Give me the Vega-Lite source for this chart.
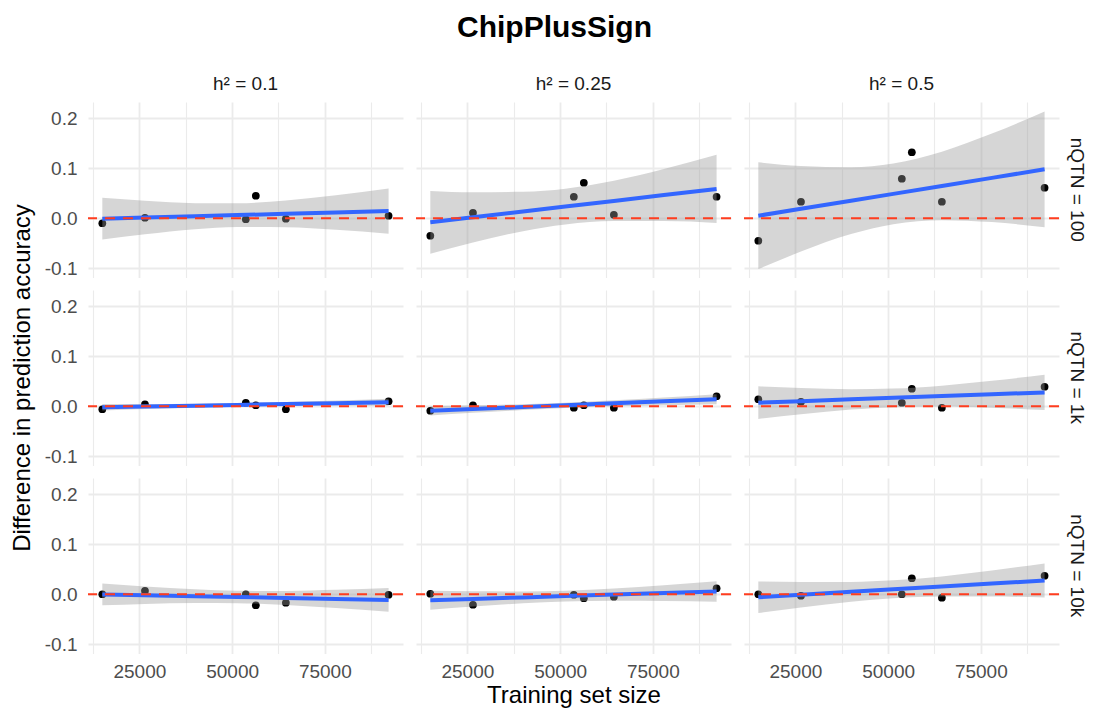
{
  "$schema": "https://vega.github.io/schema/vega-lite/v6.json",
  "padding": {"left": 10, "top": 13, "right": 5, "bottom": 5},
  "background": "white",
  "title": {"text": "ChipPlusSign", "fontSize": 30, "fontWeight": "bold", "font": "Liberation Sans", "color": "#000000", "anchor": "middle", "offset": 32, "dx": 6},
  "data": {"values": [
    {"t":"p","h":"0.1","n":"100","x":15000,"y":-0.010},
    {"t":"p","h":"0.1","n":"100","x":26500,"y":0.001},
    {"t":"p","h":"0.1","n":"100","x":53700,"y":-0.002},
    {"t":"p","h":"0.1","n":"100","x":56400,"y":0.045},
    {"t":"p","h":"0.1","n":"100","x":64500,"y":-0.001},
    {"t":"p","h":"0.1","n":"100","x":92200,"y":0.005},
    {"t":"p","h":"0.25","n":"100","x":15000,"y":-0.035},
    {"t":"p","h":"0.25","n":"100","x":26500,"y":0.011},
    {"t":"p","h":"0.25","n":"100","x":53700,"y":0.043},
    {"t":"p","h":"0.25","n":"100","x":56400,"y":0.071},
    {"t":"p","h":"0.25","n":"100","x":64500,"y":0.007},
    {"t":"p","h":"0.25","n":"100","x":92200,"y":0.043},
    {"t":"p","h":"0.5","n":"100","x":15000,"y":-0.045},
    {"t":"p","h":"0.5","n":"100","x":26500,"y":0.033},
    {"t":"p","h":"0.5","n":"100","x":53700,"y":0.079},
    {"t":"p","h":"0.5","n":"100","x":56400,"y":0.132},
    {"t":"p","h":"0.5","n":"100","x":64500,"y":0.033},
    {"t":"p","h":"0.5","n":"100","x":92200,"y":0.061},
    {"t":"p","h":"0.1","n":"1k","x":15000,"y":-0.006},
    {"t":"p","h":"0.1","n":"1k","x":26500,"y":0.004},
    {"t":"p","h":"0.1","n":"1k","x":53700,"y":0.007},
    {"t":"p","h":"0.1","n":"1k","x":56400,"y":0.002},
    {"t":"p","h":"0.1","n":"1k","x":64500,"y":-0.006},
    {"t":"p","h":"0.1","n":"1k","x":92200,"y":0.010},
    {"t":"p","h":"0.25","n":"1k","x":15000,"y":-0.009},
    {"t":"p","h":"0.25","n":"1k","x":26500,"y":0.002},
    {"t":"p","h":"0.25","n":"1k","x":53700,"y":-0.003},
    {"t":"p","h":"0.25","n":"1k","x":56400,"y":0.002},
    {"t":"p","h":"0.25","n":"1k","x":64500,"y":-0.003},
    {"t":"p","h":"0.25","n":"1k","x":92200,"y":0.020},
    {"t":"p","h":"0.5","n":"1k","x":15000,"y":0.014},
    {"t":"p","h":"0.5","n":"1k","x":26500,"y":0.009},
    {"t":"p","h":"0.5","n":"1k","x":53700,"y":0.007},
    {"t":"p","h":"0.5","n":"1k","x":56400,"y":0.035},
    {"t":"p","h":"0.5","n":"1k","x":64500,"y":-0.003},
    {"t":"p","h":"0.5","n":"1k","x":92200,"y":0.039},
    {"t":"p","h":"0.1","n":"10k","x":15000,"y":0.000},
    {"t":"p","h":"0.1","n":"10k","x":26500,"y":0.007},
    {"t":"p","h":"0.1","n":"10k","x":53700,"y":0.000},
    {"t":"p","h":"0.1","n":"10k","x":56400,"y":-0.022},
    {"t":"p","h":"0.1","n":"10k","x":64500,"y":-0.017},
    {"t":"p","h":"0.1","n":"10k","x":92200,"y":-0.001},
    {"t":"p","h":"0.25","n":"10k","x":15000,"y":0.001},
    {"t":"p","h":"0.25","n":"10k","x":26500,"y":-0.021},
    {"t":"p","h":"0.25","n":"10k","x":53700,"y":-0.001},
    {"t":"p","h":"0.25","n":"10k","x":56400,"y":-0.008},
    {"t":"p","h":"0.25","n":"10k","x":64500,"y":-0.005},
    {"t":"p","h":"0.25","n":"10k","x":92200,"y":0.012},
    {"t":"p","h":"0.5","n":"10k","x":15000,"y":0.000},
    {"t":"p","h":"0.5","n":"10k","x":26500,"y":-0.003},
    {"t":"p","h":"0.5","n":"10k","x":53700,"y":0.000},
    {"t":"p","h":"0.5","n":"10k","x":56400,"y":0.032},
    {"t":"p","h":"0.5","n":"10k","x":64500,"y":-0.007},
    {"t":"p","h":"0.5","n":"10k","x":92200,"y":0.037},

    {"t":"b","h":"0.1","n":"100","x":15000,"fit":-0.0008,"lo":-0.0426,"hi":0.0410},
    {"t":"b","h":"0.1","n":"100","x":26500,"fit":0.0014,"lo":-0.0321,"hi":0.0349},
    {"t":"b","h":"0.1","n":"100","x":40000,"fit":0.0041,"lo":-0.0220,"hi":0.0302},
    {"t":"b","h":"0.1","n":"100","x":51400,"fit":0.0063,"lo":-0.0175,"hi":0.0301},
    {"t":"b","h":"0.1","n":"100","x":64500,"fit":0.0089,"lo":-0.0179,"hi":0.0357},
    {"t":"b","h":"0.1","n":"100","x":78000,"fit":0.0116,"lo":-0.0230,"hi":0.0462},
    {"t":"b","h":"0.1","n":"100","x":92200,"fit":0.0144,"lo":-0.0309,"hi":0.0597},

    {"t":"b","h":"0.25","n":"100","x":15000,"fit":-0.0082,"lo":-0.0711,"hi":0.0547},
    {"t":"b","h":"0.25","n":"100","x":26500,"fit":0.0018,"lo":-0.0485,"hi":0.0521},
    {"t":"b","h":"0.25","n":"100","x":40000,"fit":0.0135,"lo":-0.0258,"hi":0.0528},
    {"t":"b","h":"0.25","n":"100","x":51400,"fit":0.0233,"lo":-0.0125,"hi":0.0591},
    {"t":"b","h":"0.25","n":"100","x":64500,"fit":0.0347,"lo":-0.0056,"hi":0.0750},
    {"t":"b","h":"0.25","n":"100","x":78000,"fit":0.0464,"lo":-0.0057,"hi":0.0985},
    {"t":"b","h":"0.25","n":"100","x":92200,"fit":0.0587,"lo":-0.0094,"hi":0.1268},

    {"t":"b","h":"0.5","n":"100","x":15000,"fit":0.0051,"lo":-0.1017,"hi":0.1119},
    {"t":"b","h":"0.5","n":"100","x":26500,"fit":0.0189,"lo":-0.0666,"hi":0.1044},
    {"t":"b","h":"0.5","n":"100","x":40000,"fit":0.0351,"lo":-0.0317,"hi":0.1019},
    {"t":"b","h":"0.5","n":"100","x":51400,"fit":0.0488,"lo":-0.0120,"hi":0.1096},
    {"t":"b","h":"0.5","n":"100","x":64500,"fit":0.0646,"lo":-0.0039,"hi":0.1331},
    {"t":"b","h":"0.5","n":"100","x":78000,"fit":0.0808,"lo":-0.0077,"hi":0.1693},
    {"t":"b","h":"0.5","n":"100","x":92200,"fit":0.0979,"lo":-0.0179,"hi":0.2137},

    {"t":"b","h":"0.1","n":"1k","x":15000,"fit":-0.0020,"lo":-0.0085,"hi":0.0045},
    {"t":"b","h":"0.1","n":"1k","x":26500,"fit":-0.0005,"lo":-0.0057,"hi":0.0047},
    {"t":"b","h":"0.1","n":"1k","x":40000,"fit":0.0012,"lo":-0.0028,"hi":0.0052},
    {"t":"b","h":"0.1","n":"1k","x":51400,"fit":0.0027,"lo":-0.0010,"hi":0.0064},
    {"t":"b","h":"0.1","n":"1k","x":64500,"fit":0.0044,"lo":0.0003,"hi":0.0085},
    {"t":"b","h":"0.1","n":"1k","x":78000,"fit":0.0062,"lo":0.0009,"hi":0.0115},
    {"t":"b","h":"0.1","n":"1k","x":92200,"fit":0.0080,"lo":0.0010,"hi":0.0150},

    {"t":"b","h":"0.25","n":"1k","x":15000,"fit":-0.0090,"lo":-0.0183,"hi":0.0003},
    {"t":"b","h":"0.25","n":"1k","x":26500,"fit":-0.0056,"lo":-0.0131,"hi":0.0019},
    {"t":"b","h":"0.25","n":"1k","x":40000,"fit":-0.0016,"lo":-0.0074,"hi":0.0042},
    {"t":"b","h":"0.25","n":"1k","x":51400,"fit":0.0018,"lo":-0.0035,"hi":0.0071},
    {"t":"b","h":"0.25","n":"1k","x":64500,"fit":0.0058,"lo":-0.0002,"hi":0.0118},
    {"t":"b","h":"0.25","n":"1k","x":78000,"fit":0.0098,"lo":0.0021,"hi":0.0175},
    {"t":"b","h":"0.25","n":"1k","x":92200,"fit":0.0140,"lo":0.0039,"hi":0.0241},

    {"t":"b","h":"0.5","n":"1k","x":15000,"fit":0.0072,"lo":-0.0254,"hi":0.0398},
    {"t":"b","h":"0.5","n":"1k","x":26500,"fit":0.0102,"lo":-0.0159,"hi":0.0363},
    {"t":"b","h":"0.5","n":"1k","x":40000,"fit":0.0138,"lo":-0.0066,"hi":0.0342},
    {"t":"b","h":"0.5","n":"1k","x":51400,"fit":0.0168,"lo":-0.0018,"hi":0.0354},
    {"t":"b","h":"0.5","n":"1k","x":64500,"fit":0.0203,"lo":-0.0006,"hi":0.0412},
    {"t":"b","h":"0.5","n":"1k","x":78000,"fit":0.0239,"lo":-0.0031,"hi":0.0509},
    {"t":"b","h":"0.5","n":"1k","x":92200,"fit":0.0277,"lo":-0.0077,"hi":0.0631},

    {"t":"b","h":"0.1","n":"10k","x":15000,"fit":-0.0003,"lo":-0.0222,"hi":0.0216},
    {"t":"b","h":"0.1","n":"10k","x":26500,"fit":-0.0019,"lo":-0.0194,"hi":0.0156},
    {"t":"b","h":"0.1","n":"10k","x":40000,"fit":-0.0039,"lo":-0.0176,"hi":0.0098},
    {"t":"b","h":"0.1","n":"10k","x":51400,"fit":-0.0055,"lo":-0.0179,"hi":0.0069},
    {"t":"b","h":"0.1","n":"10k","x":64500,"fit":-0.0074,"lo":-0.0214,"hi":0.0066},
    {"t":"b","h":"0.1","n":"10k","x":78000,"fit":-0.0093,"lo":-0.0274,"hi":0.0088},
    {"t":"b","h":"0.1","n":"10k","x":92200,"fit":-0.0114,"lo":-0.0351,"hi":0.0123},

    {"t":"b","h":"0.25","n":"10k","x":15000,"fit":-0.0120,"lo":-0.0310,"hi":0.0070},
    {"t":"b","h":"0.25","n":"10k","x":26500,"fit":-0.0093,"lo":-0.0245,"hi":0.0059},
    {"t":"b","h":"0.25","n":"10k","x":40000,"fit":-0.0063,"lo":-0.0182,"hi":0.0056},
    {"t":"b","h":"0.25","n":"10k","x":51400,"fit":-0.0037,"lo":-0.0145,"hi":0.0071},
    {"t":"b","h":"0.25","n":"10k","x":64500,"fit":-0.0007,"lo":-0.0129,"hi":0.0115},
    {"t":"b","h":"0.25","n":"10k","x":78000,"fit":0.0024,"lo":-0.0133,"hi":0.0181},
    {"t":"b","h":"0.25","n":"10k","x":92200,"fit":0.0056,"lo":-0.0150,"hi":0.0262},

    {"t":"b","h":"0.5","n":"10k","x":15000,"fit":-0.0060,"lo":-0.0375,"hi":0.0255},
    {"t":"b","h":"0.5","n":"10k","x":26500,"fit":-0.0010,"lo":-0.0263,"hi":0.0243},
    {"t":"b","h":"0.5","n":"10k","x":40000,"fit":0.0049,"lo":-0.0148,"hi":0.0246},
    {"t":"b","h":"0.5","n":"10k","x":51400,"fit":0.0098,"lo":-0.0082,"hi":0.0278},
    {"t":"b","h":"0.5","n":"10k","x":64500,"fit":0.0155,"lo":-0.0047,"hi":0.0357},
    {"t":"b","h":"0.5","n":"10k","x":78000,"fit":0.0214,"lo":-0.0047,"hi":0.0475},
    {"t":"b","h":"0.5","n":"10k","x":92200,"fit":0.0275,"lo":-0.0067,"hi":0.0617}
  ]},
  "facet": {
    "column": {
      "field": "h", "type": "nominal", "sort": ["0.1", "0.25", "0.5"],
      "header": {
        "labelExpr": "'h² = ' + datum.value",
        "labelFontSize": 19, "labelFont": "Liberation Sans", "labelColor": "#1A1A1A", "labelPadding": 8,
        "title": "Training set size", "titleOrient": "bottom", "titleFontSize": 24, "titleFont": "Liberation Sans",
        "titleFontWeight": "normal", "titleColor": "#000000", "titlePadding": -7
      }
    },
    "row": {
      "field": "n", "type": "nominal", "sort": ["100", "1k", "10k"],
      "header": {
        "labelExpr": "'nQTN = ' + datum.value",
        "labelOrient": "right", "labelAngle": 90,
        "labelFontSize": 19, "labelFont": "Liberation Sans", "labelColor": "#1A1A1A", "labelPadding": 7,
        "title": "Difference in prediction accuracy", "titleOrient": "left", "titleFontSize": 24, "titleFont": "Liberation Sans",
        "titleFontWeight": "normal", "titleColor": "#000000", "titlePadding": -1
      }
    }
  },
  "spacing": {"row": 12, "column": 11},
  "spec": {
    "width": 315,
    "height": 175.5,
    "layer": [
      {
        "transform": [{"filter": "datum.t === 'p'"}],
        "mark": {"type": "circle", "size": 60, "opacity": 1, "color": "#000000"},
        "encoding": {
          "x": {"field": "x", "type": "quantitative", "title": null,
                "scale": {"domain": [11138, 96088], "nice": false, "zero": false},
                "axis": {"title": null, "values": [12500, 25000, 37500, 50000, 62500, 75000, 87500],
                         "labelExpr": "datum.value % 25000 === 0 ? format(datum.value, 'd') : ''",
                         "gridWidth": {"condition": {"test": "datum.value % 25000 === 0", "value": 1.8}, "value": 1.1}}},
          "y": {"field": "y", "type": "quantitative", "title": null,
                "scale": {"domain": [-0.1185, 0.2325], "nice": false, "zero": false},
                "axis": {"title": null, "values": [-0.1, -0.05, 0, 0.05, 0.1, 0.15, 0.2],
                         "labelExpr": "abs(datum.value*10 - round(datum.value*10)) < 0.001 ? replace(format(datum.value, '.1f'), '\u2212', '-') : ''",
                         "gridWidth": {"condition": {"test": "abs(datum.value*10 - round(datum.value*10)) < 0.001", "value": 1.8}, "value": 1.1}}}
        }
      },
      {
        "transform": [{"filter": "datum.t === 'b'"}],
        "mark": {"type": "area", "color": "#999999", "opacity": 0.4, "interpolate": "monotone"},
        "encoding": {
          "x": {"field": "x", "type": "quantitative", "title": null},
          "y": {"field": "lo", "type": "quantitative", "title": null},
          "y2": {"field": "hi"}
        }
      },
      {
        "transform": [{"filter": "datum.t === 'b'"}],
        "mark": {"type": "line", "color": "#3366FF", "strokeWidth": 4},
        "encoding": {
          "x": {"field": "x", "type": "quantitative", "title": null},
          "y": {"field": "fit", "type": "quantitative", "title": null}
        }
      },
      {
        "transform": [{"filter": "datum.t === 'b' && datum.x === 15000"}],
        "mark": {"type": "rule", "color": "#FF3D1F", "strokeWidth": 2, "strokeDash": [10, 8]},
        "encoding": {"y": {"datum": 0, "type": "quantitative", "title": null}}
      }
    ]
  },
  "config": {
    "font": "Liberation Sans",
    "view": {"stroke": null},
    "axis": {
      "domain": false, "ticks": false, "tickSize": 0, "grid": true, "gridColor": "#EBEBEB",
      "labelColor": "#4D4D4D", "labelFontSize": 19, "labelFont": "Liberation Sans", "labelPadding": 8
    },
    "axisY": {"labelPadding": 10}
  }
}
